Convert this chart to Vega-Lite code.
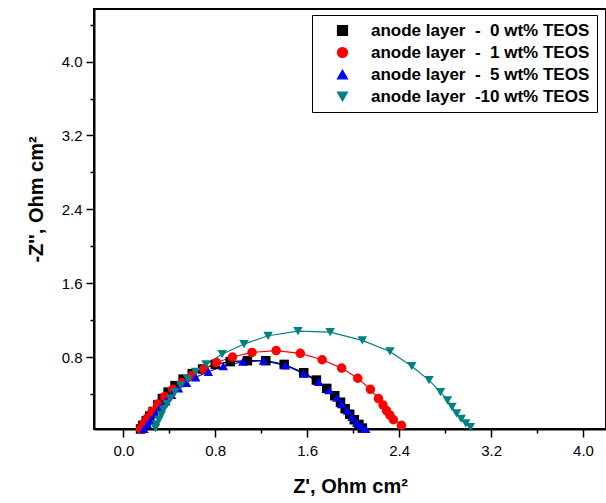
{
  "$schema": "https://vega.github.io/schema/vega-lite/v6.json",
  "autosize": "none",
  "width": 512,
  "height": 420,
  "padding": {"left": 94, "top": 9, "right": 0, "bottom": 74},
  "background": "white",
  "data": {"values": [
    {"s":"0","x":0.15,"y":0.02},{"s":"0","x":0.17,"y":0.06},{"s":"0","x":0.20,"y":0.11},{"s":"0","x":0.23,"y":0.16},{"s":"0","x":0.26,"y":0.21},{"s":"0","x":0.30,"y":0.28},{"s":"0","x":0.34,"y":0.35},{"s":"0","x":0.39,"y":0.42},{"s":"0","x":0.45,"y":0.49},{"s":"0","x":0.52,"y":0.56},{"s":"0","x":0.60,"y":0.62},{"s":"0","x":0.69,"y":0.67},{"s":"0","x":0.80,"y":0.72},{"s":"0","x":0.93,"y":0.75},{"s":"0","x":1.08,"y":0.76},{"s":"0","x":1.24,"y":0.76},{"s":"0","x":1.40,"y":0.72},{"s":"0","x":1.57,"y":0.63},{"s":"0","x":1.68,"y":0.55},{"s":"0","x":1.77,"y":0.46},{"s":"0","x":1.84,"y":0.38},{"s":"0","x":1.89,"y":0.31},{"s":"0","x":1.93,"y":0.24},{"s":"0","x":1.97,"y":0.18},{"s":"0","x":2.01,"y":0.12},{"s":"0","x":2.05,"y":0.07},{"s":"0","x":2.08,"y":0.03},
    {"s":"1","x":0.15,"y":0.02},{"s":"1","x":0.18,"y":0.08},{"s":"1","x":0.21,"y":0.14},{"s":"1","x":0.25,"y":0.21},{"s":"1","x":0.30,"y":0.29},{"s":"1","x":0.36,"y":0.37},{"s":"1","x":0.43,"y":0.45},{"s":"1","x":0.51,"y":0.52},{"s":"1","x":0.60,"y":0.60},{"s":"1","x":0.70,"y":0.67},{"s":"1","x":0.81,"y":0.74},{"s":"1","x":0.95,"y":0.80},{"s":"1","x":1.12,"y":0.85},{"s":"1","x":1.33,"y":0.87},{"s":"1","x":1.54,"y":0.84},{"s":"1","x":1.73,"y":0.77},{"s":"1","x":1.90,"y":0.68},{"s":"1","x":2.04,"y":0.57},{"s":"1","x":2.15,"y":0.45},{"s":"1","x":2.22,"y":0.35},{"s":"1","x":2.26,"y":0.28},{"s":"1","x":2.29,"y":0.22},{"s":"1","x":2.32,"y":0.17},{"s":"1","x":2.35,"y":0.12},{"s":"1","x":2.42,"y":0.06},
    {"s":"5","x":0.18,"y":0.02},{"s":"5","x":0.21,"y":0.07},{"s":"5","x":0.24,"y":0.12},{"s":"5","x":0.28,"y":0.18},{"s":"5","x":0.32,"y":0.25},{"s":"5","x":0.37,"y":0.32},{"s":"5","x":0.42,"y":0.39},{"s":"5","x":0.48,"y":0.46},{"s":"5","x":0.55,"y":0.52},{"s":"5","x":0.63,"y":0.58},{"s":"5","x":0.74,"y":0.64},{"s":"5","x":0.87,"y":0.70},{"s":"5","x":1.04,"y":0.75},{"s":"5","x":1.22,"y":0.76},{"s":"5","x":1.41,"y":0.71},{"s":"5","x":1.57,"y":0.62},{"s":"5","x":1.70,"y":0.53},{"s":"5","x":1.79,"y":0.44},{"s":"5","x":1.86,"y":0.36},{"s":"5","x":1.90,"y":0.29},{"s":"5","x":1.95,"y":0.22},{"s":"5","x":1.99,"y":0.15},{"s":"5","x":2.03,"y":0.09},{"s":"5","x":2.07,"y":0.05},{"s":"5","x":2.11,"y":0.02},
    {"s":"10","x":0.28,"y":0.03},{"s":"10","x":0.29,"y":0.07},{"s":"10","x":0.31,"y":0.12},{"s":"10","x":0.33,"y":0.17},{"s":"10","x":0.35,"y":0.23},{"s":"10","x":0.38,"y":0.29},{"s":"10","x":0.41,"y":0.35},{"s":"10","x":0.45,"y":0.42},{"s":"10","x":0.50,"y":0.49},{"s":"10","x":0.56,"y":0.56},{"s":"10","x":0.63,"y":0.64},{"s":"10","x":0.72,"y":0.72},{"s":"10","x":0.86,"y":0.83},{"s":"10","x":1.05,"y":0.94},{"s":"10","x":1.26,"y":1.03},{"s":"10","x":1.52,"y":1.08},{"s":"10","x":1.80,"y":1.07},{"s":"10","x":2.08,"y":0.98},{"s":"10","x":2.32,"y":0.86},{"s":"10","x":2.51,"y":0.70},{"s":"10","x":2.66,"y":0.55},{"s":"10","x":2.76,"y":0.42},{"s":"10","x":2.82,"y":0.33},{"s":"10","x":2.86,"y":0.26},{"s":"10","x":2.90,"y":0.19},{"s":"10","x":2.94,"y":0.13},{"s":"10","x":2.98,"y":0.08},{"s":"10","x":3.02,"y":0.04}
  ]},
  "encoding": {
    "x": {"field": "x", "type": "quantitative",
      "scale": {"domain": [-0.255, 4.2], "nice": false, "zero": false},
      "axis": {"title": "Z', Ohm cm²", "values": [0,0.4,0.8,1.2,1.6,2.0,2.4,2.8,3.2,3.6,4.0],
        "labelExpr": "abs(datum.value*1.25 - round(datum.value*1.25)) < 0.01 ? format(datum.value, '.1f') : ''",
        "tickSize": {"condition": {"test": "abs(datum.value*1.25 - round(datum.value*1.25)) < 0.01", "value": 8}, "value": 4},
        "labelPadding": 6, "titleY": 63, "titleBaseline": "alphabetic", "labelFlush": false, "labelOverlap": false}},
    "y": {"field": "y", "type": "quantitative",
      "scale": {"domain": [0.02, 4.57], "nice": false, "zero": false},
      "axis": {"title": "-Z'', Ohm cm²", "values": [0.4,0.8,1.2,1.6,2.0,2.4,2.8,3.2,3.6,4.0,4.4],
        "labelExpr": "abs(datum.value*1.25 - round(datum.value*1.25)) < 0.01 ? format(datum.value, '.1f') : ''",
        "tickSize": {"condition": {"test": "abs(datum.value*1.25 - round(datum.value*1.25)) < 0.01", "value": 8}, "value": 4},
        "labelPadding": 4, "titleX": -52, "titleY": 190, "titleBaseline": "alphabetic", "labelFlush": false, "labelOverlap": false}},
    "color": {"field": "s", "type": "nominal",
      "scale": {"domain": ["0","1","5","10"], "range": ["#000000","#ff0000","#0000ff","#008080"]},
      "legend": {
        "title": null, "orient": "none", "legendX": 218, "legendY": 6,
        "labelExpr": "{'0': 'anode layer\u00a0\u00a0-\u00a0\u00a00 wt% TEOS', '1': 'anode layer\u00a0\u00a0-\u00a0\u00a01 wt% TEOS', '5': 'anode layer\u00a0\u00a0-\u00a0\u00a05 wt% TEOS', '10': 'anode layer\u00a0\u00a0-10 wt% TEOS'}[datum.label]",
        "labelFont": "Liberation Sans", "labelFontSize": 17, "labelFontWeight": "bold", "labelColor": "black", "labelLimit": 0,
        "symbolSize": 100, "symbolOffset": 15, "labelOffset": 20, "rowPadding": 4,
        "symbolStrokeWidth": 1.2, "strokeColor": "black", "fillColor": "white", "padding": 7,
        "encode": {"symbols": {"update": {
          "fill": {"value": {"expr": "{'0': '#000000', '1': '#ff0000', '5': '#0000ff', '10': '#008080'}[datum.value]"}},
          "stroke": {"value": {"expr": "{'0': '#000000', '1': '#ff0000', '5': '#0000ff', '10': '#008080'}[datum.value]"}},
          "opacity": {"value": 1}}}}
      }}
  },
  "layer": [
    {
      "mark": {"type": "line", "strokeWidth": 1.2}
    },
    {
      "mark": {"type": "point", "filled": true, "opacity": 1, "size": 90, "strokeWidth": 0},
      "encoding": {
        "shape": {"field": "s", "type": "nominal", "legend": null,
          "scale": {"domain": ["0","1","5","10"], "range": ["square","circle","triangle-up","triangle-down"]}}
      }
    }
  ],
  "config": {
    "font": "Liberation Sans",
    "view": {"stroke": "black", "strokeWidth": 2},
    "axis": {"grid": false, "domainColor": "black", "domainWidth": 2, "tickColor": "black", "tickWidth": 1.5,
      "labelFontSize": 15, "labelColor": "black", "labelFont": "Liberation Sans",
      "titleFontSize": 20, "titleFontWeight": "bold", "titleColor": "black", "titleFont": "Liberation Sans"}
  }
}
